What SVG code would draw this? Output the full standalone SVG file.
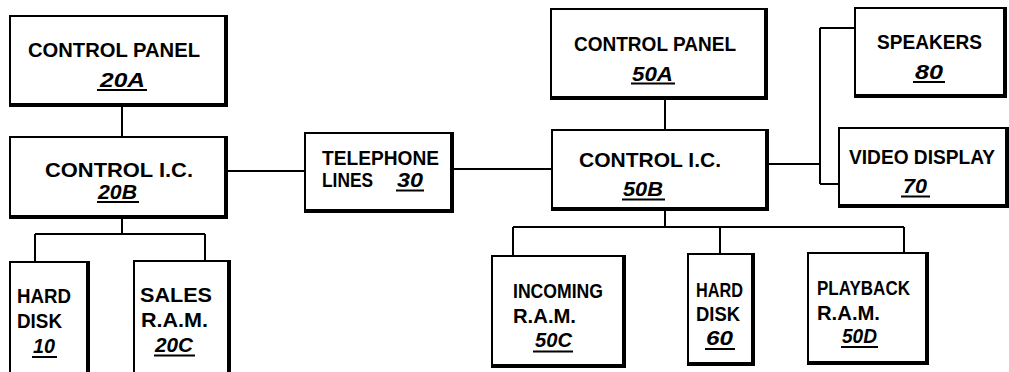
<svg xmlns="http://www.w3.org/2000/svg" width="1009" height="372" viewBox="0 0 1009 372">
<style>
.box{fill:#fff;stroke:#000;stroke-width:2}
.sh{fill:none;stroke:#000;stroke-width:4;stroke-linecap:square}
.t{font-family:"Liberation Sans",Arial,sans-serif;font-weight:bold;font-size:20px;fill:#000}
.n{font-family:"Liberation Sans",Arial,sans-serif;font-weight:bold;font-style:italic;font-size:20px;fill:#000}
.u{stroke:#000;stroke-width:2}
.c{fill:none;stroke:#000;stroke-width:2}
</style>
<rect width="1009" height="372" fill="#fff"/>
<g id="connectors">
<path class="c" d="M122,106V137"/>
<path class="c" d="M122,218V234M35,234H205M35,234V262M205,234V260"/>
<path class="c" d="M228,171H305"/>
<path class="c" d="M453,169H552"/>
<path class="c" d="M665,99V129"/>
<path class="c" d="M665,211V227M513,227H904M513,227V255M720,227V253M904,227V252"/>
<path class="c" d="M769,164H820M820,28V184M820,28H854M820,184H838"/>
</g>
<g id="n20A">
<rect class="box" x="10" y="16" width="216" height="89"/>
<path class="sh" d="M226,17V105H11"/>
<text class="t" x="28" y="57" textLength="172" lengthAdjust="spacingAndGlyphs">CONTROL PANEL</text>
<text class="n" x="100" y="87" textLength="45" lengthAdjust="spacingAndGlyphs">20A</text>
<line class="u" x1="97" y1="90" x2="147" y2="90"/>
</g>
<g id="n20B">
<rect class="box" x="10" y="137" width="216" height="80"/>
<path class="sh" d="M226,138V217H11"/>
<text class="t" x="45" y="176.5" textLength="148" lengthAdjust="spacingAndGlyphs">CONTROL I.C.</text>
<text class="n" x="98" y="199" textLength="39" lengthAdjust="spacingAndGlyphs">20B</text>
<line class="u" x1="97" y1="202" x2="139" y2="202"/>
</g>
<g id="n10">
<rect class="box" x="10" y="262" width="78" height="120"/>
<path class="sh" d="M88,263V382"/>
<text class="t" x="17" y="303" textLength="54" lengthAdjust="spacingAndGlyphs">HARD</text>
<text class="t" x="17" y="328" textLength="45" lengthAdjust="spacingAndGlyphs">DISK</text>
<text class="n" x="33" y="353" textLength="22" lengthAdjust="spacingAndGlyphs">10</text>
<line class="u" x1="32" y1="357" x2="57" y2="357"/>
</g>
<g id="n20C">
<rect class="box" x="134" y="261" width="95" height="120"/>
<path class="sh" d="M229,262V382"/>
<text class="t" x="140" y="302" textLength="72" lengthAdjust="spacingAndGlyphs">SALES</text>
<text class="t" x="141" y="327" textLength="67" lengthAdjust="spacingAndGlyphs">R.A.M.</text>
<text class="n" x="155" y="352" textLength="38" lengthAdjust="spacingAndGlyphs">20C</text>
<line class="u" x1="154" y1="355.5" x2="195" y2="355.5"/>
</g>
<g id="n30">
<rect class="box" x="305" y="133" width="147" height="78"/>
<path class="sh" d="M452,134V211H306"/>
<text class="t" x="322" y="165" textLength="117" lengthAdjust="spacingAndGlyphs">TELEPHONE</text>
<text class="t" x="322" y="187" textLength="51" lengthAdjust="spacingAndGlyphs">LINES</text>
<text class="n" x="397" y="187" textLength="26" lengthAdjust="spacingAndGlyphs">30</text>
<line class="u" x1="396" y1="190.5" x2="424" y2="190.5"/>
</g>
<g id="n50A">
<rect class="box" x="551" y="9" width="215" height="89"/>
<path class="sh" d="M766,10V98H552"/>
<text class="t" x="574" y="50.5" textLength="162" lengthAdjust="spacingAndGlyphs">CONTROL PANEL</text>
<text class="n" x="632" y="80.5" textLength="41" lengthAdjust="spacingAndGlyphs">50A</text>
<line class="u" x1="631" y1="83.5" x2="675" y2="83.5"/>
</g>
<g id="n50B">
<rect class="box" x="552" y="130" width="215" height="79"/>
<path class="sh" d="M767,131V209H553"/>
<text class="t" x="579" y="166.5" textLength="142" lengthAdjust="spacingAndGlyphs">CONTROL I.C.</text>
<text class="n" x="623" y="196" textLength="40" lengthAdjust="spacingAndGlyphs">50B</text>
<line class="u" x1="622" y1="199.5" x2="665" y2="199.5"/>
</g>
<g id="n80">
<rect class="box" x="855" y="8" width="150" height="88"/>
<path class="sh" d="M1005,9V96H856"/>
<text class="t" x="877" y="49.3" textLength="105" lengthAdjust="spacingAndGlyphs">SPEAKERS</text>
<text class="n" x="915" y="79.3" textLength="28" lengthAdjust="spacingAndGlyphs">80</text>
<line class="u" x1="913" y1="82" x2="945" y2="82"/>
</g>
<g id="n70">
<rect class="box" x="839" y="128" width="168" height="78"/>
<path class="sh" d="M1007,129V206H840"/>
<text class="t" x="849" y="164" textLength="146" lengthAdjust="spacingAndGlyphs">VIDEO DISPLAY</text>
<text class="n" x="903" y="192.5" textLength="24" lengthAdjust="spacingAndGlyphs">70</text>
<line class="u" x1="901" y1="196.5" x2="930" y2="196.5"/>
</g>
<g id="n50C">
<rect class="box" x="492" y="256" width="132" height="110"/>
<path class="sh" d="M624,257V366H493"/>
<text class="t" x="513" y="298" textLength="90" lengthAdjust="spacingAndGlyphs">INCOMING</text>
<text class="t" x="513" y="323" textLength="63" lengthAdjust="spacingAndGlyphs">R.A.M.</text>
<text class="n" x="535" y="347" textLength="37" lengthAdjust="spacingAndGlyphs">50C</text>
<line class="u" x1="533" y1="351.5" x2="573" y2="351.5"/>
</g>
<g id="n60">
<rect class="box" x="688" y="254" width="65" height="110"/>
<path class="sh" d="M753,255V364H689"/>
<text class="t" x="696" y="297" textLength="47" lengthAdjust="spacingAndGlyphs">HARD</text>
<text class="t" x="696" y="321" textLength="44" lengthAdjust="spacingAndGlyphs">DISK</text>
<text class="n" x="706" y="345" textLength="27" lengthAdjust="spacingAndGlyphs">60</text>
<line class="u" x1="705" y1="349" x2="735" y2="349"/>
</g>
<g id="n50D">
<rect class="box" x="808" y="253" width="119" height="110"/>
<path class="sh" d="M927,254V363H809"/>
<text class="t" x="817" y="295" textLength="93" lengthAdjust="spacingAndGlyphs">PLAYBACK</text>
<text class="t" x="817" y="320" textLength="63" lengthAdjust="spacingAndGlyphs">R.A.M.</text>
<text class="n" x="842" y="343" textLength="35" lengthAdjust="spacingAndGlyphs">50D</text>
<line class="u" x1="841" y1="347" x2="878" y2="347"/>
</g>
</svg>
